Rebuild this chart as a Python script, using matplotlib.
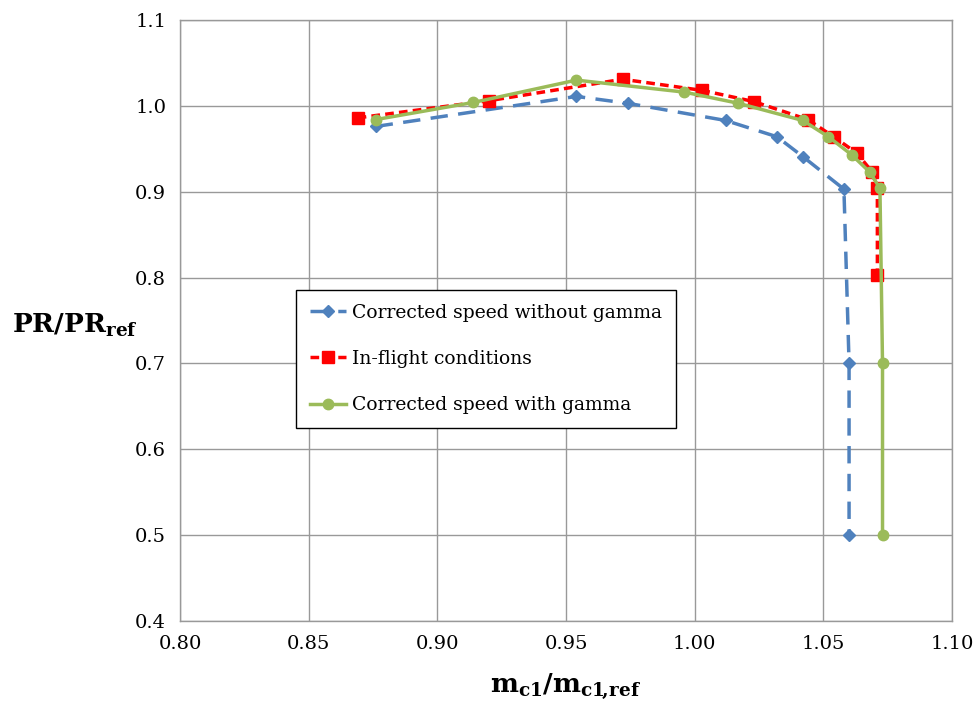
import matplotlib
matplotlib.use('Agg')
from matplotlib import pyplot as plt

plt.rcParams['font.family'] = 'DejaVu Serif'
plt.rcParams['mathtext.fontset'] = 'dejavuserif'

# Corrected speed without gamma
x_no_gamma = [0.876, 0.954, 0.974, 1.012, 1.032, 1.042, 1.058, 1.060, 1.060]
pr_no_gamma = [0.976, 1.011, 1.003, 0.983, 0.964, 0.941, 0.903, 0.700, 0.500]

# In-flight conditions
x_flight = [0.869, 0.920, 0.972, 1.003, 1.023, 1.044, 1.054, 1.063, 1.069, 1.071, 1.071]
pr_flight = [0.986, 1.006, 1.031, 1.018, 1.005, 0.984, 0.964, 0.945, 0.923, 0.904, 0.803]

# Corrected speed with gamma
x_gamma = [0.876, 0.914, 0.954, 0.996, 1.017, 1.042, 1.052, 1.061, 1.068, 1.072, 1.073, 1.073]
pr_gamma = [0.984, 1.004, 1.030, 1.016, 1.003, 0.983, 0.964, 0.943, 0.923, 0.904, 0.700, 0.500]

x_ticks = [0.80, 0.85, 0.90, 0.95, 1.00, 1.05, 1.10]
y_ticks = [0.4, 0.5, 0.6, 0.7, 0.8, 0.9, 1.0, 1.1]

fig = plt.figure(figsize=(9.79, 7.07), dpi=100)
ax = fig.add_axes([0.184, 0.1216, 0.7884, 0.8501])

ax.plot(x_no_gamma, pr_no_gamma, color='#4F81BD', lw=2.5, dashes=(5, 3),
        marker='D', ms=6, label='Corrected speed without gamma', zorder=3)
ax.plot(x_flight, pr_flight, color='#FF0000', lw=2.5, dashes=(2.5, 1.5),
        marker='s', ms=8, label='In-flight conditions', zorder=4)
ax.plot(x_gamma, pr_gamma, color='#9BBB59', lw=2.5,
        marker='o', ms=7.5, label='Corrected speed with gamma', zorder=5)

ax.set_xlim(0.80, 1.10)
ax.set_ylim(0.4, 1.1)
ax.set_xticks(x_ticks)
ax.set_xticklabels(['%.2f' % v for v in x_ticks])
ax.set_yticks(y_ticks)
ax.set_yticklabels(['%.1f' % v for v in y_ticks])
ax.tick_params(axis='both', length=0, labelsize=14, pad=10)
ax.grid(True, color='#999999', lw=1.0)
for s in ax.spines.values():
    s.set_color('#999999')
    s.set_linewidth(1.0)

ax.set_xlabel(r'$\mathbf{m_{c1}/m_{c1\!,\!ref}}$', fontsize=19, labelpad=13)
fig.text(0.012, 0.54, r'$\mathbf{PR/PR_{ref}}$', fontsize=19, ha='left', va='center')

leg = ax.legend(loc='upper left', bbox_to_anchor=(0.150, 0.551), borderaxespad=0,
                fontsize=13.5, frameon=True, fancybox=False, edgecolor='black',
                framealpha=1, borderpad=0.75, labelspacing=1.5, handlelength=1.9,
                handletextpad=0.35)
leg.get_frame().set_linewidth(1.0)

plt.savefig('out.png', dpi=100)
